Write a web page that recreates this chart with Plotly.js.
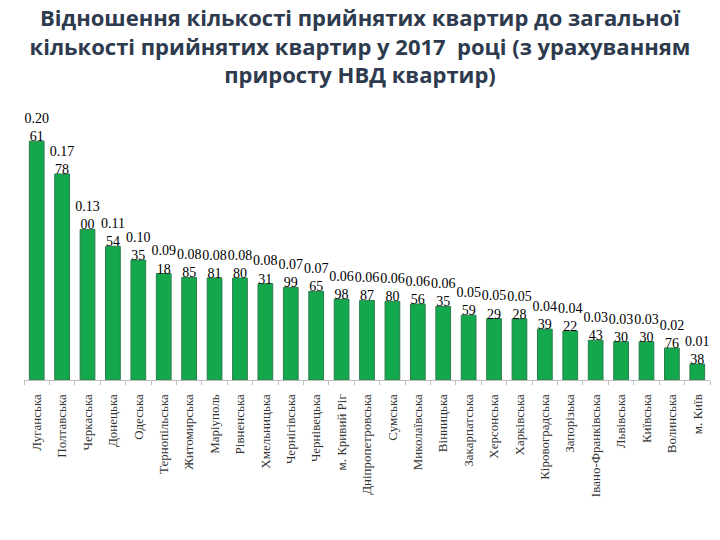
<!DOCTYPE html>
<html>
<head>
<meta charset="utf-8">
<script src="https://cdn.plot.ly/plotly-3.0.1.min.js"></script>
<style>html,body{margin:0;padding:0;background:#fff}#chart{width:720px;height:540px}</style>
</head>
<body>
<div id="chart"></div>
<script>
const regions = ["Луганська","Полтавська","Черкаська","Донецька","Одеська","Тернопільська","Житомирська","Маріуполь","Рівненська","Хмельницька","Чернігівська","Чернівецька","м. Кривий Ріг","Дніпропетровська","Сумська","Миколаївська","Вінницька","Закарпатська","Херсонська","Харківська","Кіровоградська","Запорізька","Івано-Франківська","Львівська","Київська","Волинська","м. Київ"];
const ratios = [0.2061,0.1778,0.1300,0.1154,0.1035,0.0918,0.0885,0.0881,0.0880,0.0831,0.0799,0.0765,0.0698,0.0687,0.0680,0.0656,0.0635,0.0559,0.0529,0.0528,0.0439,0.0422,0.0343,0.0330,0.0330,0.0276,0.0138];
const titleText = "Відношення кількості прийнятих квартир до загальної<br>кількості прийнятих квартир у 2017  році (з урахуванням<br>приросту НВД квартир)";

const labels = ratios.map(v => { const s = v.toFixed(4); return s.slice(0,4) + "<br>" + s.slice(4); });

const yMax = 0.233;
const labelDrop = 0.003;

const bars = {
  type: "bar",
  x: regions,
  y: ratios,
  marker: {color: "#14a84c", line: {color: "#2b7d4c", width: 1}},
  hoverinfo: "none"
};

const valueLabels = {
  type: "scatter",
  mode: "text",
  x: regions,
  y: ratios,
  yaxis: "y2",
  text: labels,
  textposition: "top center",
  cliponaxis: false,
  textfont: {family: "Liberation Serif, Times New Roman, serif", size: 14, color: "#000"},
  hoverinfo: "none"
};

const layout = {
  width: 720, height: 540,
  margin: {l: 24, r: 10, t: 110, b: 160},
  paper_bgcolor: "#fff", plot_bgcolor: "#fff",
  bargap: 0.42,
  showlegend: false,
  title: {
    text: titleText,
    x: 0.5, xanchor: "center",
    yref: "container", y: 0.952, yanchor: "top",
    font: {family: "Open Sans, sans-serif", size: 22, color: "#2e3a4d", weight: "bold"}
  },
  xaxis: {
    range: [-0.5, regions.length - 0.5],
    autorange: false,
    tickangle: -90,
    tickfont: {family: "Liberation Serif, Times New Roman, serif", size: 13, color: "#333"},
    ticklabelstandoff: 8,
    showline: true, linecolor: "#bfbfbf", linewidth: 1,
    ticks: "outside", ticklen: 4, tickcolor: "#bfbfbf",
    tickson: "boundaries",
    showgrid: false
  },
  yaxis: {
    range: [0, yMax],
    visible: false,
    showgrid: false, zeroline: false
  },
  yaxis2: {
    overlaying: "y",
    range: [labelDrop, yMax + labelDrop],
    visible: false,
    showgrid: false, zeroline: false
  }
};

Plotly.newPlot("chart", [bars, valueLabels], layout, {displayModeBar: false, staticPlot: true});
</script>
</body>
</html>
